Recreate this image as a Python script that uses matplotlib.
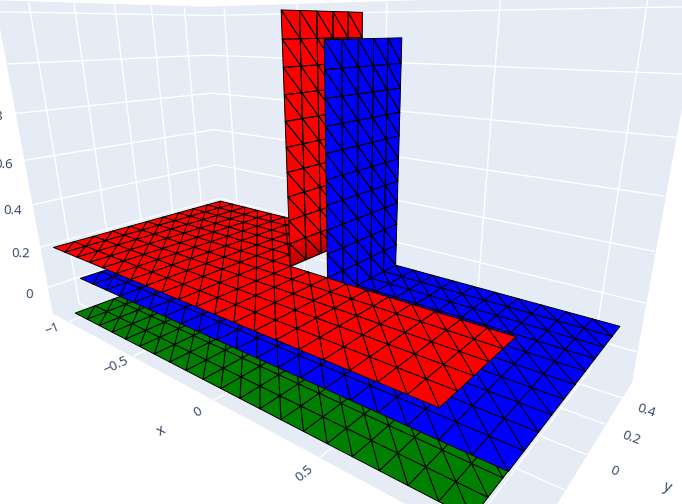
import numpy as np
import matplotlib
matplotlib.use("Agg")
import matplotlib.pyplot as plt
from mpl_toolkits.mplot3d.art3d import Poly3DCollection

# scene box
x_range = [-1.15, 1.15]
y_range = [-0.535, 0.535]
z_range = [-0.13, 1.24]

# plates: x at left end / fold / right end, and height
red_x = [-1.1, -0.1, 0.885]
red_z = 0.2
blue_x = [-0.9, 0.1, 1.085]
blue_z = 0.1
green_x = [-1, 1]
green_z = -0.1
y_edges = [-0.5, 0, 0.5]
wall_height = 1
cell = 0.1

x_ticks = [-1, -0.5, 0, 0.5, 1]
y_ticks = [-0.4, -0.2, 0, 0.2, 0.4]
z_ticks = [0, 0.2, 0.4, 0.6, 0.8, 1, 1.2]
x_labels = {-1: "\u22121", -0.5: "\u22120.5", 0: "0", 0.5: "0.5"}
y_labels = {0: "0", 0.2: "0.2", 0.4: "0.4"}
z_labels = {0: "0", 0.2: "0.2", 0.4: "0.4", 0.6: "0.6", 0.8: "0.8"}

# perspective camera: data (x, y, z, 1) -> image pixels
CAMERA = np.array([
    [109.351713, 244.380324, -46.695556, 309.659297],
    [-6.410999, 7.750644, -256.775534, 316.101106],
    [-0.230324, 0.287541, -0.133246, 1.0],
])

plt.rcParams["font.family"] = "Open Sans"
fig = plt.figure(figsize=(6.82, 5.04), dpi=100)
ax = fig.add_axes([0, 0, 1, 1], projection="3d")
ax.apply_aspect = lambda position=None: None
ax.computed_zorder = False
ax.viewLim.intervalx = (0, 682)
ax.viewLim.intervaly = (0, 504)
ax.set_xlim(*x_range, view_margin=0)
ax.set_ylim(*y_range, view_margin=0)
ax.set_zlim(*z_range, view_margin=0)


def camera():
    flip = np.array([[1, 0, 0], [0, -1, 504], [0, 0, 1]])
    to_2d = ax.transData.inverted().get_matrix() @ flip
    r = to_2d @ CAMERA
    return np.array([r[0], r[1], [0, 0, 0, -1], r[2]])


ax.get_proj = camera

ax.set_xticks(x_ticks)
ax.set_yticks(y_ticks)
ax.set_zticks(z_ticks)
ax.set_xticklabels([])
ax.set_yticklabels([])
ax.set_zticklabels([])
for a in (ax.xaxis, ax.yaxis, ax.zaxis):
    a.set_pane_color("#E5ECF6")
    a.pane.set_edgecolor("#E5ECF6")
    a.line.set_color((0, 0, 0, 0))
    a._axinfo["grid"].update(color="white", linewidth=1.0)
    a._axinfo["tick"].update(inward_factor=0, outward_factor=0)


def plate(xa, xb, ya, yb, z, color, order, edges):
    nx = int(round((xb - xa) / cell))
    ny = int(round((yb - ya) / cell))
    xs = np.linspace(xa, xb, nx + 1)
    ys = np.linspace(ya, yb, ny + 1)
    tris = []
    for i in range(nx):
        for j in range(ny):
            a = (xs[i], ys[j], z)
            b = (xs[i + 1], ys[j], z)
            c = (xs[i + 1], ys[j + 1], z)
            d = (xs[i], ys[j + 1], z)
            tris += [[a, b, d], [b, c, d]]
    ax.add_collection3d(Poly3DCollection(tris, facecolor=color, edgecolor="black",
                                         linewidth=0.7, zorder=order))
    for (x0, y0), (x1, y1) in edges:
        ax.plot([x0, x1], [y0, y1], [z, z], color="black", lw=1.7, zorder=order + 0.5,
                solid_capstyle="round")


def wall(x, ya, yb, za, color, order, shade=False):
    zb = za + wall_height
    ys = np.linspace(ya, yb, 6)
    zs = np.linspace(za, zb, 11)
    tris = []
    for i in range(5):
        for j in range(10):
            a = (x, ys[i], zs[j])
            b = (x, ys[i + 1], zs[j])
            c = (x, ys[i + 1], zs[j + 1])
            d = (x, ys[i], zs[j + 1])
            tris += [[a, b, d], [b, c, d]]
    ax.add_collection3d(Poly3DCollection(tris, facecolor=color, edgecolor=color,
                                         linewidth=0.2, zorder=order))
    if shade:
        # the foot of the wall goes darker where it folds into the plate
        zz = np.linspace(za, za + 0.14, 8)
        strips = [[(x, ya, zz[k]), (x, yb, zz[k]), (x, yb, zz[k + 1]), (x, ya, zz[k + 1])]
                  for k in range(7)]
        cols = [(0.75 + 0.25 * k / 6, 0, 0) for k in range(7)]
        ax.add_collection3d(Poly3DCollection(strips, facecolor=cols, edgecolor=cols,
                                             linewidth=0.2, zorder=order + 0.1))
    ax.add_collection3d(Poly3DCollection(tris, facecolor=(0, 0, 0, 0), edgecolor="black",
                                         linewidth=0.7, zorder=order + 0.2))
    ax.plot([x, x, x, x], [ya, ya, yb, yb], [za, zb, zb, za], color="black", lw=1.7,
            zorder=order + 0.5)


y0, ym, y1 = y_edges
gx0, gx1 = green_x
bx0, bxf, bx1 = blue_x
rx0, rxf, rx1 = red_x

# painted back to front
plate(gx0, gx1, y0, ym, green_z, "green", 1,
      [((gx0, y0), (gx1, y0)), ((gx1, y0), (gx1, ym)), ((gx0, y0), (gx0, ym))])
plate(bx0, bxf, y0, ym, blue_z, "blue", 2,
      [((bx0, y0), (bxf, y0)), ((bx0, y0), (bx0, ym)), ((bx0, ym), (bxf, ym))])
plate(bxf, bx1, y0, y1, blue_z, "blue", 2,
      [((bxf, y0), (bx1, y0)), ((bx1, y0), (bx1, y1)), ((bxf, y1), (bx1, y1))])
plate(rx0, rxf, y0, y1, red_z, "red", 3,
      [((rx0, y0), (rxf, y0)), ((rx0, y0), (rx0, y1)), ((rx0, y1), (rxf, y1))])
wall(rxf, ym, y1, red_z, "red", 4, shade=True)
wall(bxf, ym, y1, blue_z, "blue", 5)
plate(rxf, rx1, y0, ym, red_z, "red", 6,
      [((rxf, y0), (rx1, y0)), ((rx1, y0), (rx1, ym)), ((rxf, ym), (rx1, ym))])

# tick labels follow the floor lines, as in the 3d scene
tc = "#2a3f5f"
fs = 9.6
for t, s in x_labels.items():
    ax.text(t + 0.01, y_range[0] - 0.085, z_range[0], s, zdir="y", color=tc, fontsize=fs,
            ha="center", va="center", zorder=20)
for t, s in y_labels.items():
    ax.text(x_range[1] + 0.09, t - 0.025, z_range[0], s, zdir="x", color=tc, fontsize=fs,
            ha="center", va="center", zorder=20)
for t, s in z_labels.items():
    ax.text(x_range[0], y_range[0] - 0.09, t - 0.005, s, zdir=(1, 0.7, 0), color=tc, fontsize=fs,
            ha="center", va="center", zorder=20)
ax.text(0, y_range[0] - 0.23, z_range[0], "x", zdir="y", color=tc, fontsize=fs + 1,
        ha="center", va="center", zorder=20)
ax.text(x_range[1] + 0.23, 0, z_range[0], "y", zdir="x", color=tc, fontsize=fs + 1,
        ha="center", va="center", zorder=20)

fig.savefig("out.png", dpi=100)
